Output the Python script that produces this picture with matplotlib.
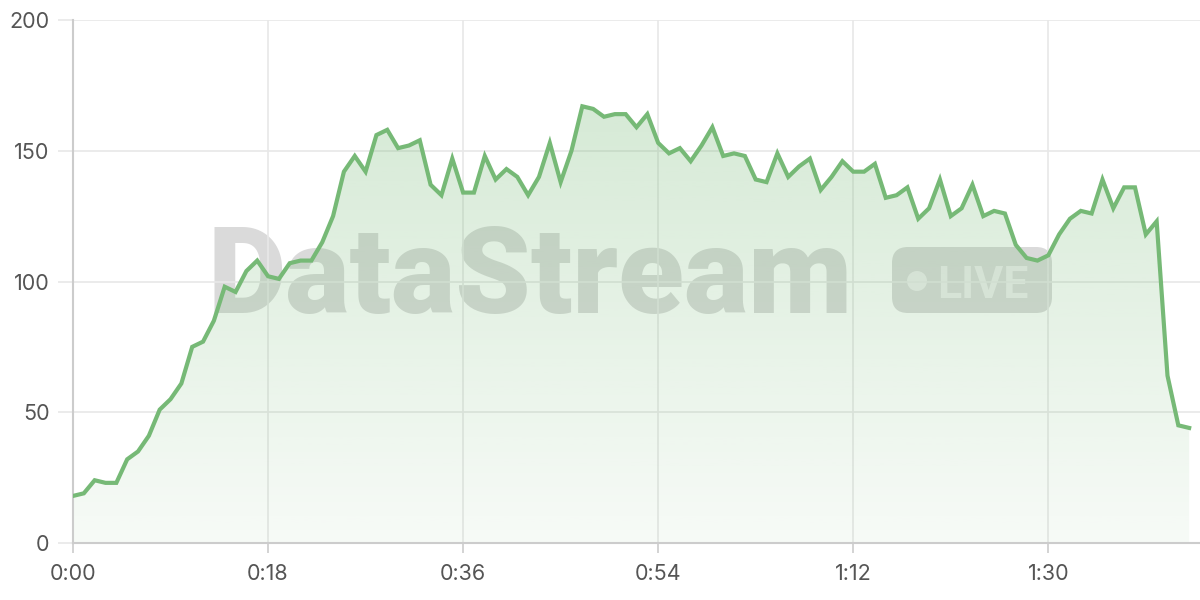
import numpy as np
import matplotlib
matplotlib.use("Agg")
import matplotlib.pyplot as plt
from matplotlib.patches import FancyBboxPatch, Circle

# データ（1分ごとの値）
minutes = list(range(104))
values = [18, 19, 24, 23, 23, 32, 35, 41, 51, 55,
          61, 75, 77, 85, 98, 96, 104, 108, 102, 101,
          107, 108, 108, 115, 125, 142, 148, 142, 156, 158,
          151, 152, 154, 137, 133, 147, 134, 134, 148, 139,
          143, 140, 133, 140, 153, 138, 150, 167, 166, 163,
          164, 164, 159, 164, 153, 149, 151, 146, 152, 159,
          148, 149, 148, 139, 138, 149, 140, 144, 147, 135,
          140, 146, 142, 142, 145, 132, 133, 136, 124, 128,
          139, 125, 128, 137, 125, 127, 126, 114, 109, 108,
          110, 118, 124, 127, 126, 139, 128, 136, 136, 118,
          123, 64, 45, 44]
x_ticks = [0, 18, 36, 54, 72, 90]
x_labels = ["%d:%02d" % (m // 60, m % 60) for m in x_ticks]
y_ticks = [0, 50, 100, 150, 200]

line_color = "#76b976"
grid_color = "#e8e8e8"
axis_color = "#cccccc"
text_color = "#555555"

plt.rcParams["font.family"] = ["Inter", "DejaVu Sans"]

fig = plt.figure(figsize=(12, 6), dpi=100)

# 背景のウォーターマーク（ピクセル座標）
bg = fig.add_axes([0, 0, 1, 1], zorder=0)
bg.set_xlim(0, 1200)
bg.set_ylim(600, 0)
bg.axis("off")
bg.text(208, 313, "DataStream", fontsize=87, fontweight="black",
        family=["Roboto", "DejaVu Sans"], color="#7a7a7a", alpha=0.28,
        ha="left", va="baseline")
bg.add_patch(FancyBboxPatch((892, 247), 160, 66, boxstyle="round,pad=0,rounding_size=16",
                            fc="#7a7a7a", ec="none", alpha=0.28))
bg.add_patch(Circle((917, 281), 10, fc="white", ec="none", alpha=0.55))
bg.text(937, 298, "LIVE", fontsize=32, fontweight="bold", family=["Roboto", "DejaVu Sans"],
        color="white", alpha=0.55, ha="left", va="baseline")

# メインのグラフ
ax = fig.add_axes([73 / 1200, 57 / 600, 1127 / 1200, 523 / 600], zorder=1)
ax.patch.set_visible(False)

ax.plot(minutes, values, color=line_color, lw=3, zorder=4, solid_joinstyle="miter")

# グラデーション塗りつぶし
poly = ax.fill_between(minutes, values, 0, color="none", lw=0)
vmax = max(values)
grad = np.zeros((256, 1, 4))
rgb = matplotlib.colors.to_rgb(line_color)
grad[:, 0, 0:3] = rgb
grad[:, 0, 3] = np.linspace(0.06, 0.30, 256)
im = ax.imshow(grad, aspect="auto", extent=[minutes[0], minutes[-1], 0, vmax],
               origin="lower", zorder=2)
im.set_clip_path(poly.get_paths()[0], transform=ax.transData)

ax.set_xlim(0, 104)
ax.set_ylim(0, 200)

ax.set_xticks(x_ticks)
ax.set_xticklabels(x_labels)
ax.set_yticks(y_ticks)

ax.grid(True, color=grid_color, lw=1.2, zorder=1)
ax.set_axisbelow(True)

for s in ["top", "right"]:
    ax.spines[s].set_visible(False)
for s in ["left", "bottom"]:
    ax.spines[s].set_color(axis_color)
    ax.spines[s].set_linewidth(1.5)

ax.tick_params(axis="y", length=11, width=1.2, color=grid_color, pad=6,
               labelsize=15.5, labelcolor=text_color)
ax.tick_params(axis="x", length=7, width=1.2, color=axis_color, pad=8,
               labelsize=15.5, labelcolor=text_color)

fig.savefig("out.png", dpi=100)
